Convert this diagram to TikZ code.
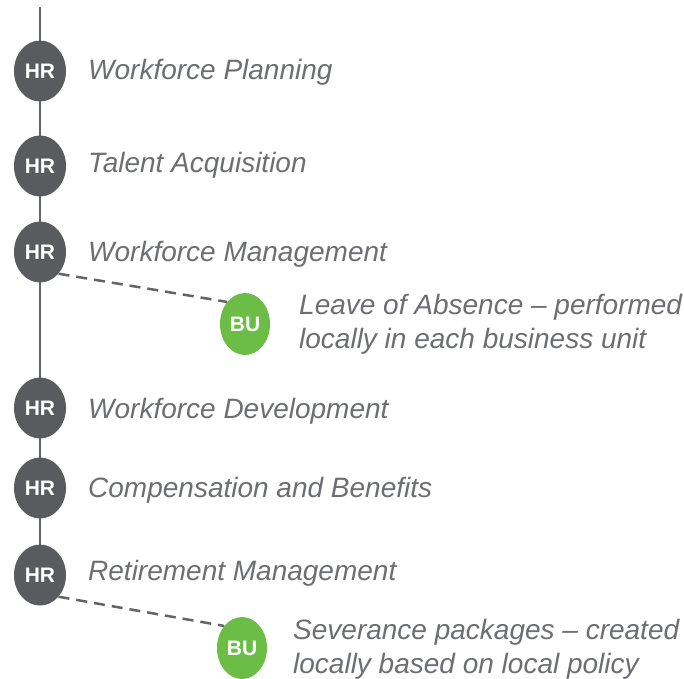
\documentclass[tikz,border=0pt]{standalone}
\usepackage{fontspec}
\setmainfont{Liberation Sans}
\usetikzlibrary{shapes.geometric,backgrounds}
\definecolor{hrgray}{HTML}{5A5B5E}
\definecolor{linegray}{HTML}{636467}
\definecolor{txtgray}{HTML}{6D6E71}
\definecolor{bugreen}{HTML}{6CBD45}
\begin{document}
\begin{tikzpicture}[x=1pt,y=-1pt,
  hrnode/.style={ellipse,fill=hrgray,minimum width=52pt,minimum height=61pt,inner sep=0pt,
    text=white,font=\fontsize{21}{21}\selectfont\bfseries},
  bunode/.style={ellipse,fill=bugreen,minimum width=50pt,minimum height=62pt,inner sep=0pt,
    text=white,font=\fontsize{21}{21}\selectfont\bfseries},
  lbl/.style={anchor=west,inner sep=0pt,text=txtgray,font=\fontsize{28}{34}\selectfont\itshape,align=left},
  spine/.style={draw=linegray,line width=2.2pt},
  dashlink/.style={draw=linegray,line width=2.5pt,dash pattern=on 11pt off 7pt}]
\useasboundingbox (0,0) rectangle (684,678);
\coordinate (top) at (40,7);
\node[hrnode] (hr1) at (40,71) {HR};
\node[hrnode] (hr2) at (40,166) {HR};
\node[hrnode] (hr3) at (40,252) {HR};
\node[hrnode] (hr4) at (40,408) {HR};
\node[hrnode] (hr5) at (40,488) {HR};
\node[hrnode] (hr6) at (40,575) {HR};
\node[bunode] (bu1) at (245,324) {BU};
\node[bunode] (bu2) at (242,648) {BU};
\begin{scope}[on background layer]
  \draw[spine] (top) -- (hr6.center);
  \draw[dashlink] (hr3.south east) -- (bu1.north west);
  \draw[dashlink] (hr6.south east) -- (bu2.north west);
\end{scope}
\node[lbl] (t1) at (88,72) {Workforce Planning};
\node[lbl] (t2) at (88,165) {Talent Acquisition};
\node[lbl] (t3) at (88,254) {Workforce Management};
\node[lbl] (t4) at (299,324) {Leave of Absence -- performed\\locally in each business unit};
\node[lbl] (t5) at (88,411) {Workforce Development};
\node[lbl] (t6) at (88,490) {Compensation and Benefits};
\node[lbl] (t7) at (88,573) {Retirement Management};
\node[lbl] (t8) at (293,649) {Severance packages -- created\\locally based on local policy};
\end{tikzpicture}
\end{document}
